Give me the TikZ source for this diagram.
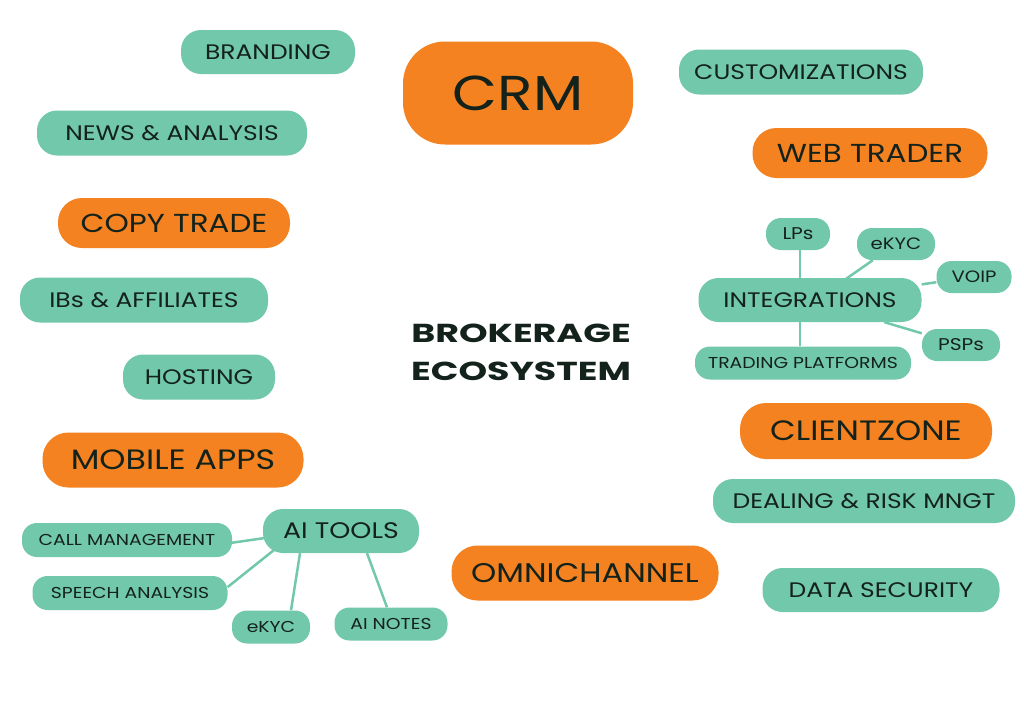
\documentclass[tikz,border=0pt]{standalone}
\usepackage{fontspec}
\setmainfont{Poppins}[FakeStretch=1.19]
\newfontfamily\titlefont{Poppins}[FakeStretch=1.4]
\usetikzlibrary{backgrounds,calc}
\definecolor{tealc}{RGB}{114,200,171}
\definecolor{orangec}{RGB}{245,130,32}
\definecolor{txtc}{RGB}{20,34,28}
\newcommand{\fs}[1]{\fontsize{#1}{#1}\selectfont}
\tikzset{
  box/.style={fill=tealc, text=txtc, inner sep=0pt, align=center},
  tbig/.style={box, rounded corners=20pt, font=\fs{21}},
  tsmall/.style={box, rounded corners=15pt, font=\fs{15.8}},
  obox/.style={box, fill=orangec, rounded corners=24pt, font=\fs{26}},
  oboxl/.style={obox, rounded corners=26pt, font=\fs{28}},
  link/.style={draw=tealc, line width=2.5pt},
}
\begin{document}
\begin{tikzpicture}[x=1pt,y=-1pt]
\useasboundingbox (0,0) rectangle (1024,718);
% left column
\node[tbig, minimum width=174, minimum height=44] (brand) at (268,52) {BRANDING};
\node[tbig, minimum width=270, minimum height=45] (news) at (172,133) {NEWS \& ANALYSIS};
\node[obox, minimum width=232, minimum height=50] (copy) at (174,223) {COPY TRADE};
\node[tbig, minimum width=248, minimum height=45] (ibs) at (144,300) {IBs \& AFFILIATES};
\node[tbig, minimum width=152, minimum height=45] (host) at (199,377) {HOSTING};
\node[oboxl, minimum width=261, minimum height=55] (mobile) at (173,460) {MOBILE APPS};
% AI tools
\node[tbig, font=\fs{22.5}, minimum width=156, minimum height=44] (ai) at (341,531) {AI TOOLS};
\node[tsmall, minimum width=210, minimum height=34] (call) at (127,540) {CALL MANAGEMENT};
\node[tsmall, minimum width=195, minimum height=34] (speech) at (130,593) {SPEECH ANALYSIS};
\node[tsmall, minimum width=78, minimum height=33] (ekycb) at (271,627) {eKYC};
\node[tsmall, minimum width=113, minimum height=33] (notes) at (391,624) {AI NOTES};
% center
\node[box, fill=orangec, rounded corners=42pt, minimum width=230, minimum height=103, font=\fs{49}] (crm) at (518,93) {CRM};
\node[text=txtc, font=\titlefont\fontsize{26}{38}\selectfont\bfseries, align=center, inner sep=0pt] (eco) at (521,352) {BROKERAGE\\ECOSYSTEM};
\node[oboxl, font=\fs{27}, minimum width=267, minimum height=55] (omni) at (585,573) {OMNICHANNEL};
% right column
\node[tbig, minimum width=244, minimum height=45] (cust) at (801,72) {CUSTOMIZATIONS};
\node[obox, minimum width=235, minimum height=50] (web) at (870,153) {WEB TRADER};
\node[tbig, minimum width=223, minimum height=44] (integ) at (810,300) {INTEGRATIONS};
\node[tsmall, font=\fs{17}, minimum width=64, minimum height=32] (lps) at (798,234) {LPs};
\node[tsmall, font=\fs{16.5}, minimum width=78, minimum height=32] (ekyct) at (896,244) {eKYC};
\node[tsmall, font=\fs{16.5}, minimum width=75, minimum height=32] (voip) at (974,277) {VOIP};
\node[tsmall, font=\fs{17}, minimum width=78, minimum height=32] (psps) at (961,345) {PSPs};
\node[tsmall, minimum width=216, minimum height=33] (trading) at (803,363) {TRADING PLATFORMS};
\node[oboxl, minimum width=252, minimum height=56] (client) at (866,431) {CLIENTZONE};
\node[tbig, minimum width=302, minimum height=44] (deal) at (864,501) {DEALING \& RISK MNGT};
\node[tbig, minimum width=237, minimum height=44] (data) at (881,590) {DATA SECURITY};
% connectors
\begin{pgfonlayer}{background}
\fill[white] (0,0) rectangle (1024,718);
\draw[link] ($(lps.south)+(2,0)$) -- ($(integ.north)+(-10,0)$);
\draw[link] ($(integ.south)+(-10,0)$) -- ($(trading.north)+(-3,0)$);
\draw[link] ($(integ)+(0,4)$) -- (ekyct);
\draw[link] (integ) -- (voip);
\draw[link] (integ) -- (psps);
\draw[link] ($(ai.west)+(2,7)$) -- ($(call.east)+(-2,3)$);
\draw[link] ($(ai)+(-67,19)$) -- ($(speech.east)+(0,-6)$);
\draw[link] ($(ai.south)+(-41,0)$) -- ($(ekycb.north)+(20,0)$);
\draw[link] ($(ai.south)+(26,0)$) -- ($(notes.north)+(-4,0)$);
\end{pgfonlayer}
\end{tikzpicture}
\end{document}
